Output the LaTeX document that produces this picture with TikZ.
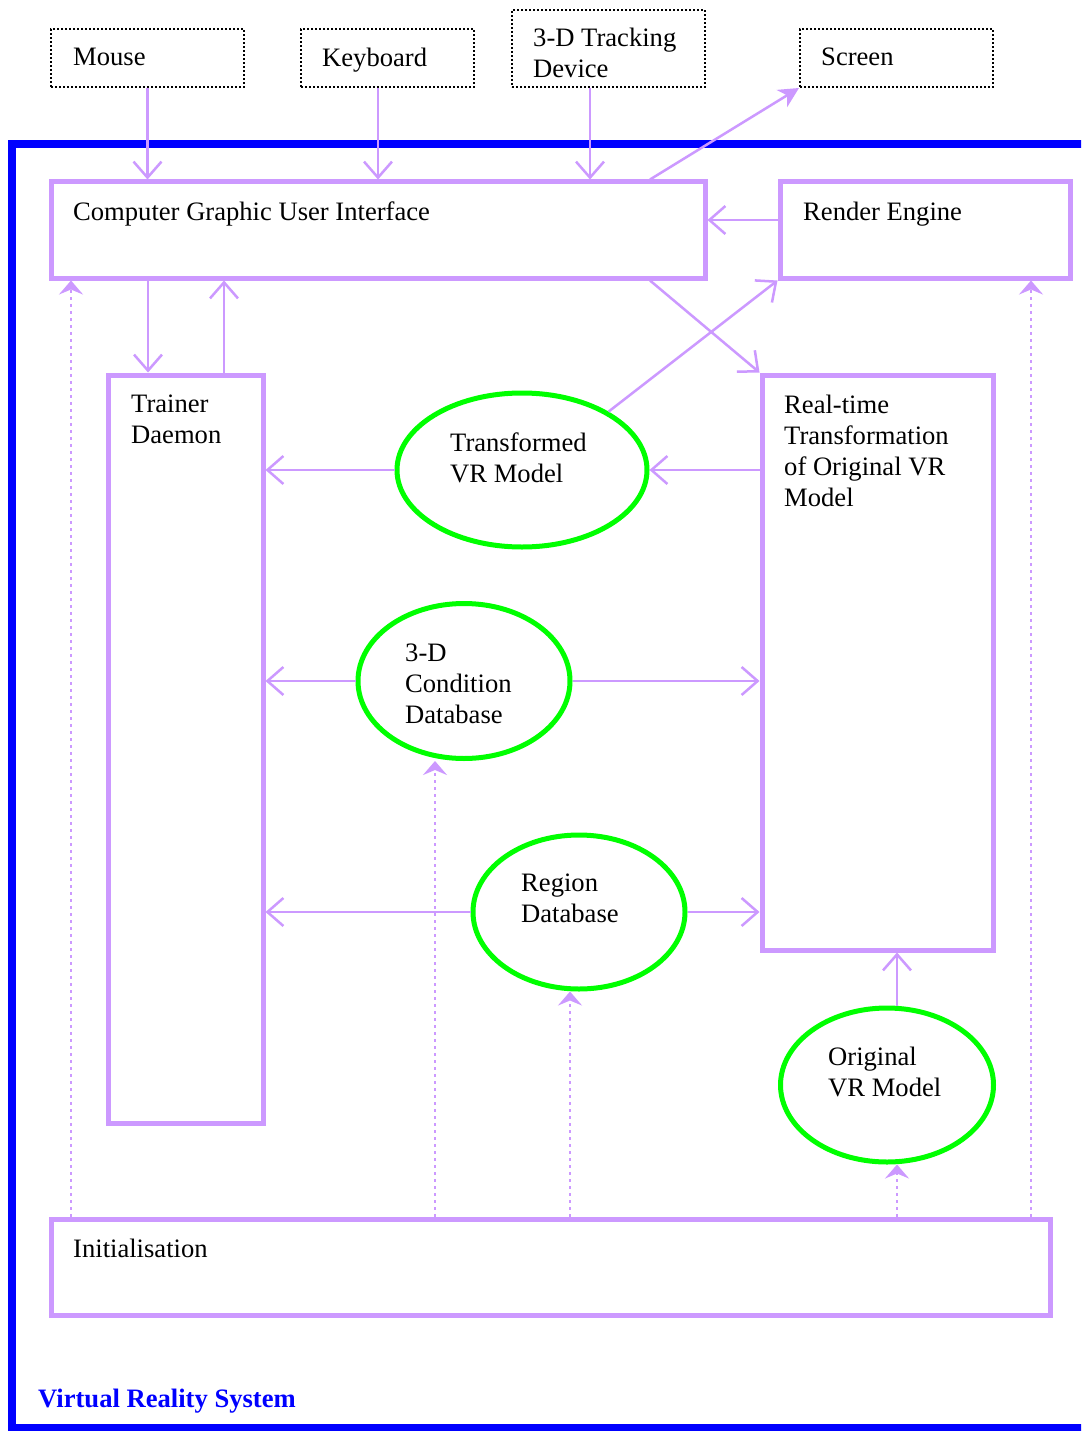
\documentclass[tikz,border=0pt]{standalone}
\usepackage{fontspec}
\setmainfont{Liberation Serif}
\usetikzlibrary{arrows.meta,shapes.geometric}
\definecolor{lilac}{HTML}{CC99FF}
\definecolor{vrgreen}{HTML}{00FF00}
\definecolor{vrblue}{HTML}{0000FF}
\begin{document}
\begin{tikzpicture}[x=1pt,y=-1pt,
  font=\fontsize{26.6}{31}\selectfont,
  device/.style={draw=black,line width=2pt,dash pattern=on 2pt off 2pt,rectangle,inner sep=0pt},
  module/.style={draw=lilac,line width=5pt,rectangle,inner sep=0pt},
  store/.style={draw=vrgreen,line width=5pt,ellipse,inner sep=0pt},
  txt/.style={inner sep=0pt,anchor=north west,align=left},
  flow/.style={draw=lilac,line width=2.5pt,-{Straight Barb[length=16pt,width=28pt,line width=2.5pt]}},
  initflow/.style={draw=lilac,line width=2.5pt,dash pattern=on 3pt off 4pt,-{Stealth[length=14pt,width=24pt,inset=5pt]}},
  outflow/.style={draw=lilac,line width=2.5pt,-{Stealth[length=20pt,width=20pt,inset=6pt]}},
]
\useasboundingbox (0,0) rectangle (1081,1431);
\fill[white] (0,0) rectangle (1081,1431);
\begin{scope}
\clip (0,0) rectangle (1081,1431);
% system frame
\draw[vrblue,line width=8pt] (12,144) rectangle (1120,1428);
\end{scope}
\node[anchor=west,inner sep=0pt,text=vrblue,font=\fontsize{26.6}{31}\selectfont\bfseries] (sysname) at (38,1401) {Virtual Reality System};

% external devices
\node[device,minimum width=193pt,minimum height=58pt] (mouse) at (147.5,58) {};
\node[device,minimum width=173pt,minimum height=58pt] (kbd) at (387.5,58) {};
\node[device,minimum width=193pt,minimum height=77pt] (trk) at (608.5,48.5) {};
\node[device,minimum width=193pt,minimum height=58pt] (screen) at (896.5,58) {};
\node[txt] (mouset) at (73,48) {Mouse};
\node[txt] (kbdt) at (322,48) {Keyboard};
\node[txt] (trkt) at (533,28) {3-D Tracking\\Device};
\node[txt] (screent) at (821,48) {Screen};

% modules
\node[module,minimum width=654pt,minimum height=96pt] (cgui) at (378,230) {};
\node[module,minimum width=290pt,minimum height=96pt] (render) at (925,230) {};
\node[module,minimum width=155pt,minimum height=748pt] (trainer) at (185.5,749) {};
\node[module,minimum width=231pt,minimum height=575pt] (rt) at (877.5,662.5) {};
\node[module,minimum width=999pt,minimum height=96pt] (init) at (550.5,1267) {};
\node[txt] (cguit) at (73,202) {Computer Graphic User Interface};
\node[txt] (rendert) at (803,202) {Render Engine};
\node[txt] (trainert) at (131,395) {Trainer\\Daemon};
\node[txt] (rtt) at (784,395) {Real-time\\Transformation\\of Original VR\\Model};
\node[txt] (initt) at (73,1239) {Initialisation};

% data stores
\node[store,minimum width=250pt,minimum height=154pt] (tvr) at (522,470) {};
\node[store,minimum width=212pt,minimum height=155pt] (cdb) at (464,681) {};
\node[store,minimum width=212pt,minimum height=154pt] (rdb) at (579,912) {};
\node[store,minimum width=213pt,minimum height=154pt] (ovr) at (887,1085) {};
\node[txt] (tvrt) at (450,433) {Transformed\\VR Model};
\node[txt] (cdbt) at (405,644) {3-D\\Condition\\Database};
\node[txt] (rdbt) at (521,874) {Region\\Database};
\node[txt] (ovrt) at (828,1047) {Original\\VR Model};

% device inputs and screen output
\draw[flow] (mouse.south) -- (mouse.south |- cgui.north);
\draw[flow] (kbd.south -| 378,0) -- (378,0 |- cgui.north);
\draw[flow] (trk.south -| 590,0) -- (590,0 |- cgui.north);
\draw[outflow] (cgui.north -| 650,0) -- (screen.south west);

% module links
\draw[flow] (render.west |- 0,220) -- (cgui.east |- 0,220);
\draw[flow] (cgui.south -| 148,0) -- (trainer.north -| 148,0);
\draw[flow] (trainer.north -| 224,0) -- (cgui.south -| 224,0);
\draw[flow] (cgui.south -| 650,0) -- (rt.north west);
\draw[flow] (tvr.34) -- (render.south west);
\draw[flow] (rt.west |- tvr.east) -- (tvr.east);
\draw[flow] (tvr.west) -- (trainer.east |- tvr.west);
\draw[flow] (cdb.west) -- (trainer.east |- cdb.west);
\draw[flow] (cdb.east) -- (rt.west |- cdb.east);
\draw[flow] (rdb.west) -- (trainer.east |- rdb.west);
\draw[flow] (rdb.east) -- (rt.west |- rdb.east);
\draw[flow] (ovr.north -| 897,0) -- (rt.south -| 897,0);

% initialisation
\draw[initflow] (init.north -| 71,0) -- (cgui.south -| 71,0);
\draw[initflow] (init.north -| 435,0) -- (cdb.south -| 435,0);
\draw[initflow] (init.north -| 570,0) -- (rdb.south -| 570,0);
\draw[initflow] (init.north -| 897,0) -- (ovr.south -| 897,0);
\draw[initflow] (init.north -| 1031,0) -- (render.south -| 1031,0);
\end{tikzpicture}
\end{document}
